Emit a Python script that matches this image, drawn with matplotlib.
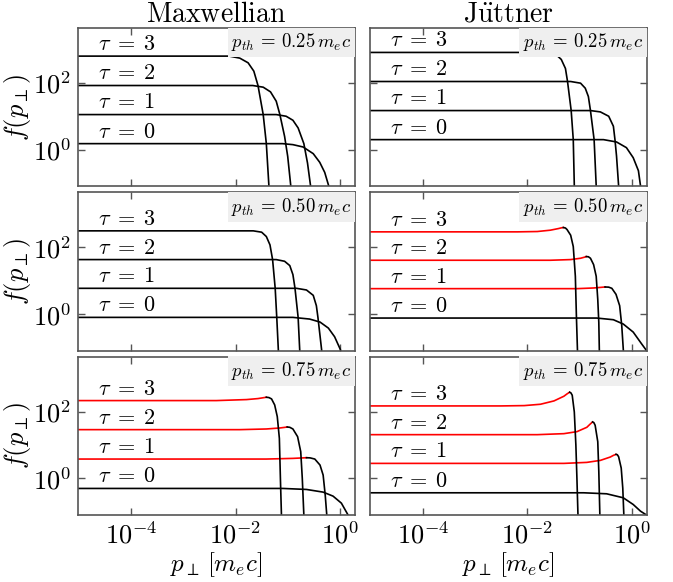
import numpy as np
import matplotlib
matplotlib.use("Agg")
import matplotlib.pyplot as plt
from matplotlib.ticker import FixedLocator, NullLocator

plt.rcParams.update({
    "font.family": "serif",
    "font.serif": ["cmr10", "DejaVu Serif"],
    "mathtext.fontset": "cm",
    "axes.formatter.use_mathtext": True,
})

COLUMNS = [r"$\mathrm{Maxwellian}$", r"$\mathrm{J\ddot{u}ttner}$"]
P_TH = ["0.25", "0.50", "0.75"]
TAUS = [0, 1, 2, 3]

# log10(p_perp) and log10(f), one list per tau = 0..3
max25_logp = [[-5.1, -1.1, -0.9, -0.705, -0.51, -0.385, -0.29, -0.21, -0.17],
              [-5.1, -1.22, -1.03, -0.90, -0.80, -0.69, -0.62, -0.56, -0.54],
              [-5.1, -1.67, -1.47, -1.33, -1.22, -1.15, -1.06, -1.00, -0.94, -0.92],
              [-5.1, -2.12, -1.92, -1.76, -1.65, -1.57, -1.47, -1.41, -1.36, -1.34]]
max25_logf = [[0.18, 0.18, 0.15, 0.08, -0.12, -0.38, -0.68, -1.10, -1.4],
              [1.05, 1.05, 1.00, 0.88, 0.65, 0.18, -0.40, -1.10, -1.5],
              [1.92, 1.92, 1.87, 1.73, 1.45, 1.05, 0.40, -0.20, -1.10, -1.5],
              [2.80, 2.80, 2.74, 2.60, 2.35, 1.92, 1.05, 0.18, -1.10, -1.5]]

jut25_logp = [[-5.1, -0.54, -0.29, -0.10, 0.03, 0.13, 0.17, 0.20],
              [-5.1, -0.79, -0.60, -0.44, -0.35, -0.32, -0.29, -0.25, -0.24],
              [-5.1, -1.17, -0.98, -0.89, -0.83, -0.79, -0.72, -0.68, -0.67],
              [-5.1, -1.62, -1.46, -1.35, -1.27, -1.23, -1.16, -1.12, -1.10, -1.09]]
jut25_logf = [[0.30, 0.30, 0.23, 0.06, -0.24, -0.63, -1.08, -1.3],
              [1.17, 1.17, 1.13, 1.00, 0.70, 0.30, -0.19, -1.08, -1.4],
              [2.04, 2.04, 1.99, 1.84, 1.59, 1.17, 0.30, -1.08, -1.4],
              [2.91, 2.91, 2.86, 2.70, 2.43, 2.04, 1.17, 0.30, -1.08, -1.4]]

max50_logp = [[-5.1, -0.90, -0.58, -0.38, -0.22, -0.10, 0.01, 0.04],
              [-5.1, -0.83, -0.64, -0.51, -0.45, -0.42, -0.35, -0.34],
              [-5.1, -1.22, -1.06, -0.96, -0.90, -0.86, -0.80, -0.77, -0.76],
              [-5.1, -1.66, -1.50, -1.41, -1.34, -1.29, -1.24, -1.21, -1.18, -1.17]]
max50_logf = [[-0.10, -0.10, -0.15, -0.24, -0.42, -0.68, -1.06, -1.3],
              [0.77, 0.77, 0.72, 0.56, 0.25, -0.10, -1.06, -1.4],
              [1.63, 1.63, 1.58, 1.45, 1.18, 0.77, -0.10, -1.06, -1.4],
              [2.49, 2.49, 2.45, 2.32, 2.07, 1.63, 0.77, -0.10, -1.06, -1.4]]

jut50_logp = [[-5.1, -0.67, -0.35, -0.16, 0.03, 0.19, 0.27, 0.32],
              [-5.1, -1.05, -0.73, -0.58, -0.51, -0.44, -0.38, -0.30, -0.23, -0.19, -0.16, -0.15],
              [-5.1, -1.56, -1.17, -0.98, -0.91, -0.87, -0.83, -0.79, -0.73, -0.68, -0.65, -0.63, -0.62, -0.61],
              [-5.1, -2.19, -1.81, -1.56, -1.40, -1.35, -1.31, -1.27, -1.24, -1.17, -1.12, -1.08, -1.06, -1.04, -1.03]]
jut50_logf = [[-0.12, -0.12, -0.17, -0.30, -0.54, -0.89, -1.06, -1.2],
              [0.76, 0.76, 0.78, 0.80, 0.81, 0.805, 0.77, 0.59, 0.25, -0.34, -1.06, -1.4],
              [1.61, 1.61, 1.63, 1.67, 1.70, 1.72, 1.715, 1.67, 1.48, 1.13, 0.44, -0.25, -1.06, -1.4],
              [2.46, 2.46, 2.47, 2.51, 2.56, 2.58, 2.59, 2.575, 2.53, 2.36, 2.02, 1.13, -0.05, -1.06, -1.4]]

max75_logp = [[-5.1, -1.09, -0.64, -0.32, -0.13, 0.03, 0.16, 0.20],
              [-5.1, -1.41, -0.90, -0.70, -0.64, -0.57, -0.48, -0.38, -0.32, -0.28, -0.25, -0.24],
              [-5.1, -1.92, -1.41, -1.15, -1.05, -1.01, -0.96, -0.90, -0.81, -0.75, -0.72, -0.69, -0.68],
              [-5.1, -2.37, -1.79, -1.57, -1.45, -1.41, -1.36, -1.31, -1.25, -1.20, -1.16, -1.14, -1.12, -1.11]]
max75_logf = [[-0.30, -0.30, -0.33, -0.41, -0.53, -0.74, -1.10, -1.25],
              [0.58, 0.58, 0.60, 0.615, 0.62, 0.615, 0.58, 0.40, 0.10, -0.50, -1.10, -1.4],
              [1.46, 1.46, 1.48, 1.51, 1.53, 1.54, 1.53, 1.48, 1.25, 0.80, 0.0, -1.10, -1.4],
              [2.33, 2.33, 2.36, 2.39, 2.42, 2.43, 2.42, 2.38, 2.20, 1.85, 1.20, 0.0, -1.10, -1.4]]

jut75_logp = [[-5.1, -0.92, -0.48, -0.16, 0.03, 0.17, 0.27, 0.32],
              [-5.1, -1.30, -0.86, -0.60, -0.41, -0.35, -0.30, -0.275, -0.25, -0.20, -0.17, -0.15, -0.14],
              [-5.1, -1.81, -1.30, -1.05, -0.86, -0.80, -0.75, -0.725, -0.70, -0.65, -0.63, -0.61, -0.60],
              [-5.1, -2.51, -2.06, -1.75, -1.49, -1.30, -1.24, -1.19, -1.165, -1.14, -1.10, -1.07, -1.05, -1.03, -1.02]]
jut75_logf = [[-0.43, -0.43, -0.46, -0.58, -0.78, -0.98, -1.08, -1.2],
              [0.45, 0.45, 0.48, 0.54, 0.64, 0.69, 0.72, 0.71, 0.65, 0.31, -0.29, -1.08, -1.4],
              [1.31, 1.31, 1.34, 1.40, 1.53, 1.62, 1.69, 1.67, 1.59, 1.10, 0.21, -1.08, -1.4],
              [2.17, 2.17, 2.18, 2.22, 2.32, 2.46, 2.53, 2.58, 2.56, 2.49, 1.99, 1.00, 0.01, -1.08, -1.4]]

PANELS = [[(max25_logp, max25_logf), (jut25_logp, jut25_logf)],
          [(max50_logp, max50_logf), (jut50_logp, jut50_logf)],
          [(max75_logp, max75_logf), (jut75_logp, jut75_logf)]]

LABEL_P = 2.3e-5
SPINE = "#555555"

fig, axes = plt.subplots(3, 2, figsize=(6.73, 5.82), dpi=100, sharex=True, sharey=True)
fig.subplots_adjust(left=0.116, right=0.961, bottom=0.115, top=0.952, wspace=0.054, hspace=0.038)

for r in range(3):
    for c in range(2):
        ax = axes[r, c]
        logp, logf = PANELS[r][c]
        for tau, lp, lf in zip(TAUS, logp, logf):
            p = 10 ** np.array(lp)
            f = 10 ** np.array(lf)
            k = int(np.argmax(f))          # rising part (df/dp > 0) drawn in red
            if k > 0:
                ax.plot(p[:k + 1], f[:k + 1], color="red", lw=1.2)
                ax.plot(p[k:], f[k:], color="black", lw=1.2)
            else:
                ax.plot(p, f, color="black", lw=1.2)
            ax.annotate(rf"$\tau \;=\; {tau}$", (LABEL_P, f[0]), xytext=(0, 1.5),
                        textcoords="offset points", va="bottom", ha="left", fontsize=16)
        ax.annotate(rf"$p_{{th}} \,=\, {P_TH[r]}\,m_e c$", (1, 1), xycoords="axes fraction",
                    xytext=(-2.5, -2.5), textcoords="offset points", ha="right", va="top",
                    fontsize=13.5,
                    bbox=dict(boxstyle="square,pad=0.2", fc="#efefef", ec="none"))
        ax.set_xscale("log")
        ax.set_yscale("log")
        ax.set_xlim(9.5e-6, 1.95)
        ax.set_ylim(0.08, 4400)
        ax.xaxis.set_major_locator(FixedLocator([1e-4, 1e-2, 1]))
        ax.yaxis.set_major_locator(FixedLocator([1, 1e2]))
        ax.xaxis.set_minor_locator(NullLocator())
        ax.yaxis.set_minor_locator(NullLocator())
        ax.tick_params(which="both", direction="in", top=True, right=True,
                       length=5, width=1.0, color=SPINE, labelsize=19, pad=5)
        for s in ax.spines.values():
            s.set_color(SPINE)
            s.set_linewidth(1.2)
        if c == 0:
            ax.set_ylabel(r"$f(p_\perp)$", fontsize=19, labelpad=0)
        if r == 2:
            ax.set_xlabel(r"$p_\perp\,[m_e c]$", fontsize=18, labelpad=1)
        if r == 0:
            ax.set_title(COLUMNS[c], fontsize=20, pad=4)

fig.savefig("out.png", dpi=100)
